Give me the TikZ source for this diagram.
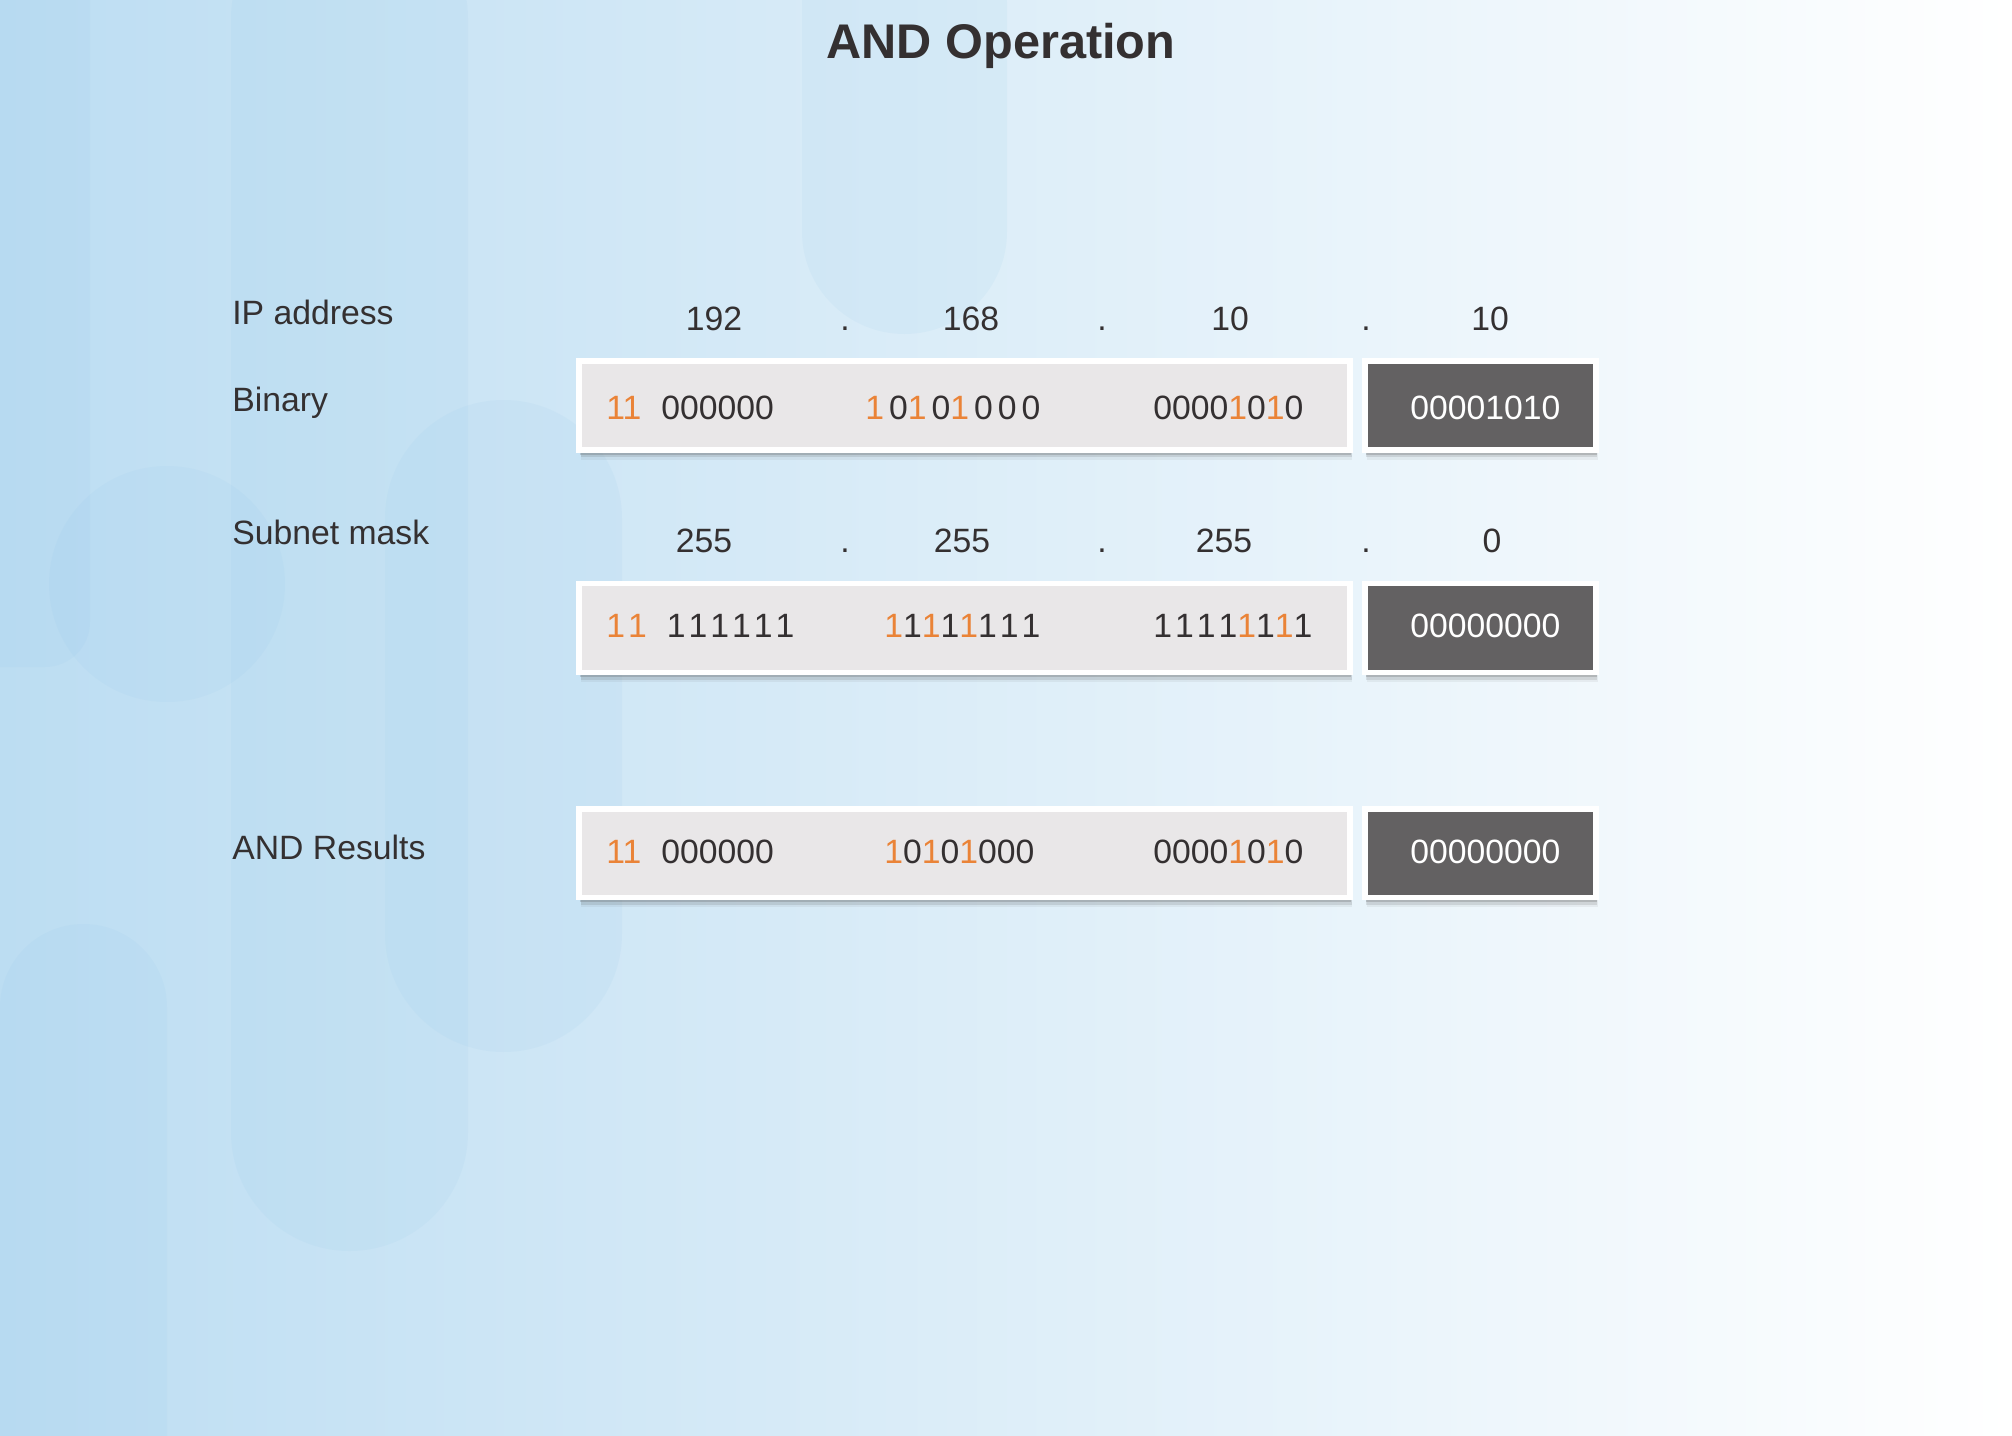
\documentclass[tikz,border=0pt]{standalone}
\usepackage{fontspec}
\setmainfont{Liberation Sans}
\usetikzlibrary{positioning,shadows}

\definecolor{bgblue}{RGB}{188,221,242}
\definecolor{bgmid}{RGB}{214,233,246}
\definecolor{pillblue}{RGB}{140,195,232}
\definecolor{textdark}{RGB}{52,48,49}
\definecolor{bitorange}{RGB}{234,131,55}
\definecolor{boxgray}{RGB}{233,231,232}
\definecolor{boxdark}{RGB}{99,97,98}

\newcommand{\hi}[1]{\textcolor{bitorange}{#1}}
\newcommand{\bitgap}{\hspace{0.1cm}}
\newcommand{\onegap}{\hspace{0.06cm}}
\newcommand{\octgap}{\hspace{0.4cm}}

\begin{document}
\begin{tikzpicture}[
    x=0.02cm, y=-0.02cm,
    every node/.style={text=textdark, font=\fontsize{19.2}{23}\selectfont},
    heading/.style={anchor=base, inner sep=0, font=\fontsize{27.7}{33}\selectfont\bfseries},
    rowlabel/.style={anchor=base west, inner sep=0},
    octet/.style={anchor=base, inner sep=0},
    bits/.style={anchor=west, inner sep=0},
    softshadow/.style={
      drop shadow={shadow xshift=1.2pt, shadow yshift=-5.5pt, opacity=0.07, fill=black!70},
      drop shadow={shadow xshift=0.9pt, shadow yshift=-4pt, opacity=0.14, fill=black!70},
      drop shadow={shadow xshift=0.6pt, shadow yshift=-2.8pt, opacity=0.22, fill=black!70}},
    panel/.style={rectangle, draw=white, line width=3.4pt, minimum height=1.78cm, inner sep=0, softshadow},
    lightbox/.style={panel, fill=boxgray, minimum width=15.42cm},
    darkbox/.style={panel, fill=boxdark, minimum width=4.62cm},
    pill/.style={fill=pillblue, opacity=0.09}
  ]
  % background
  \useasboundingbox (0,0) rectangle (2012,1436);
  \begin{scope}
    \clip (0,0) rectangle (2012,1436);
    \shade[left color=bgblue, middle color=bgmid, right color=white] (0,0) rectangle (2012,1436);
    \fill[pill, rounded corners=0.9cm] (-50,-100) rectangle (90,667);
    \fill[pill, rounded corners=2.37cm] (231,-100) rectangle (468,1251);
    \fill[pill] (167,584) circle (2.36cm);
    \fill[pill, rounded corners=1.67cm] (0,924) rectangle (167,1600);
    \fill[pill, rounded corners=2.37cm] (385,400) rectangle (622,1052);
    \fill[pill, rounded corners=2.05cm] (802,-100) rectangle (1007,334);
  \end{scope}

  \node[heading] (title) at (1001,59) {AND Operation};

  \node[rowlabel] (iplabel) at (232,324) {IP address};
  \node[rowlabel] (binlabel) at (232,411) {Binary};
  \node[rowlabel] (masklabel) at (232,544) {Subnet mask};
  \node[rowlabel] (andlabel) at (232,859) {AND Results};

  % dotted decimal values
  \node[octet] (ipA) at (714,331) {192};
  \node[octet] (ipdotA) at (845,331) {.};
  \node[octet] (ipB) at (971,331) {168};
  \node[octet] (ipdotB) at (1102,331) {.};
  \node[octet] (ipC) at (1230,331) {10};
  \node[octet] (ipdotC) at (1366,331) {.};
  \node[octet] (ipD) at (1490,331) {10};

  \node[octet] (maskA) at (704,552) {255};
  \node[octet] (maskdotA) at (845,552) {.};
  \node[octet] (maskB) at (962,552) {255};
  \node[octet] (maskdotB) at (1102,552) {.};
  \node[octet] (maskC) at (1224,552) {255};
  \node[octet] (maskdotC) at (1366,552) {.};
  \node[octet] (maskD) at (1492,552) {0};

  % binary panels
  \node[lightbox] (ipbin) at (964.5,405.5) {};
  \node[darkbox, right=0.18cm of ipbin] (ipbinlast) {};
  \node[lightbox] (maskbin) at (964.5,628) {};
  \node[darkbox, right=0.18cm of maskbin] (maskbinlast) {};
  \node[lightbox] (andbin) at (964.5,853) {};
  \node[darkbox, right=0.18cm of andbin] (andbinlast) {};

  \node[bits] (ipbitsA) at (606,408) {\hi{11}\octgap 000000};
  \node[bits] (ipbitsB) at (865,408) {\hi{1}\bitgap 0\hi{1}\bitgap 0\hi{1}\bitgap 0\bitgap 0\bitgap 0};
  \node[bits] (ipbitsC) at (1153,408) {0000\hi{1}0\hi{1}0};
  \node[bits, text=white] (ipbitsD) at (1410,408) {00001010};

  \node[bits] (maskbitsA) at (606,626) {\hi{1\onegap 1}\octgap 1\onegap 1\onegap 1\onegap 1\onegap 1\onegap 1};
  \node[bits] (maskbitsB) at (884,626) {\hi{1}1\hi{1}1\hi{1}1\onegap 1\onegap 1};
  \node[bits] (maskbitsC) at (1153,626) {1\onegap 1\onegap 1\onegap 1\hi{1}1\hi{1}1};
  \node[bits, text=white] (maskbitsD) at (1410,626) {00000000};

  \node[bits] (andbitsA) at (606,852) {\hi{11}\octgap 000000};
  \node[bits] (andbitsB) at (884,852) {\hi{1}0\hi{1}0\hi{1}000};
  \node[bits] (andbitsC) at (1153,852) {0000\hi{1}0\hi{1}0};
  \node[bits, text=white] (andbitsD) at (1410,852) {00000000};
\end{tikzpicture}
\end{document}
